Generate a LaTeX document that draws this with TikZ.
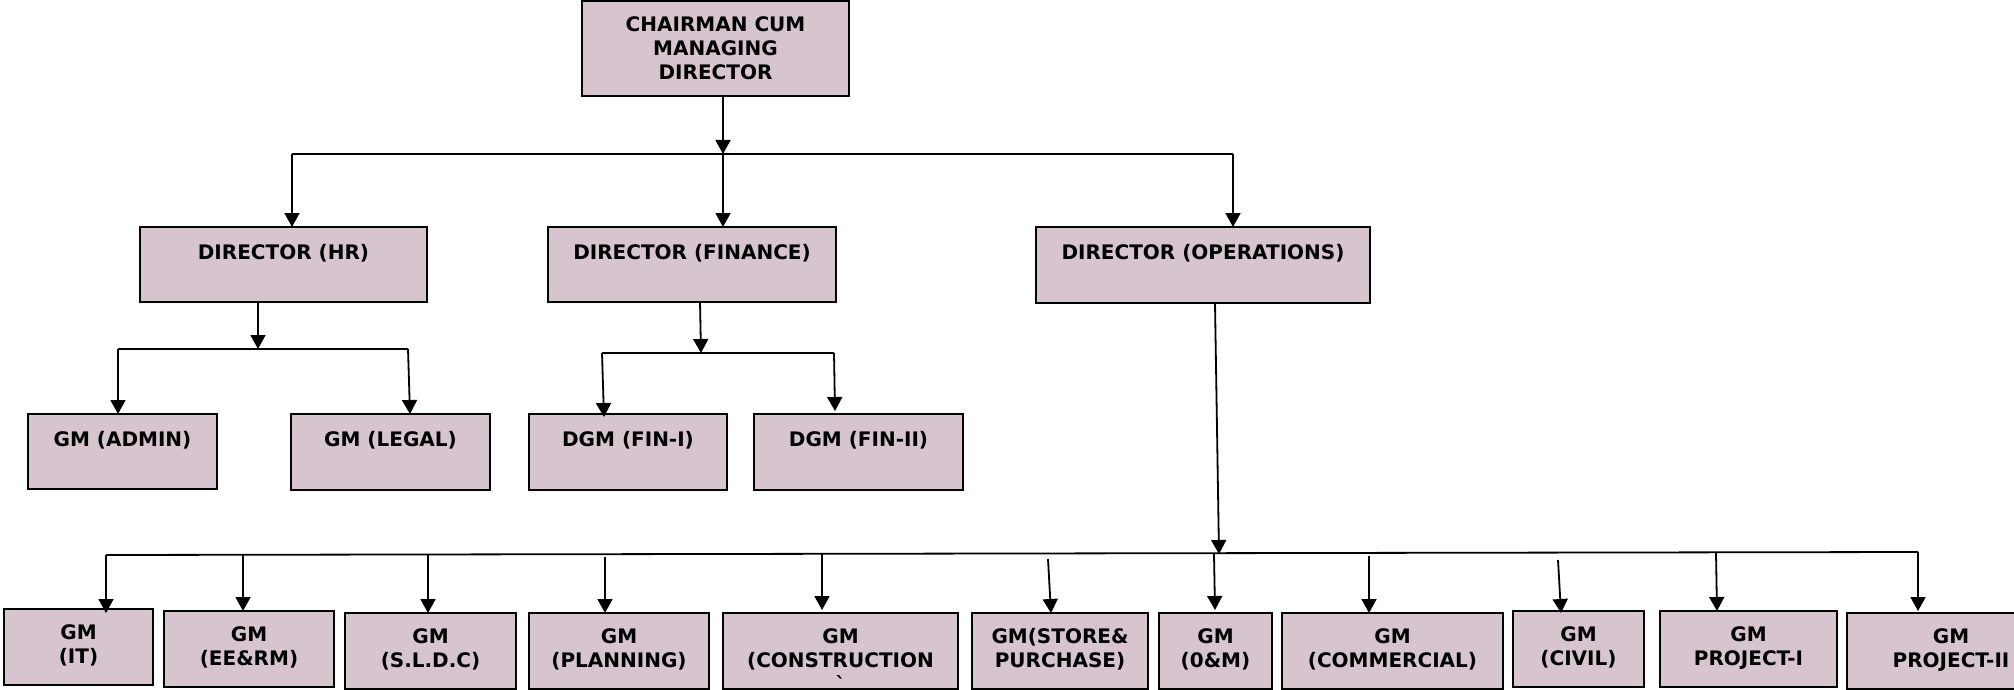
\documentclass[tikz,border=0pt]{standalone}
\usepackage{fontspec}
\setmainfont{DejaVu Sans}
\usetikzlibrary{arrows.meta,calc}
\definecolor{boxfill}{RGB}{214,196,206}
\newcommand\orgfont{\fontsize{20}{24.4}\selectfont\bfseries}
\newcommand\obox[6]{%
  \node[box, minimum width=#4pt, minimum height=#5pt] (#1) at (#2,#3) {};
  \node[lbl] (#1-t) at ($(#1.north)+(0,15)$) {#6};}
\begin{document}
\begin{tikzpicture}[x=1pt,y=-1pt,
  box/.style={draw=black, line width=1.8pt, fill=boxfill, inner sep=0pt, outer sep=0pt, anchor=north west},
  lbl/.style={font=\orgfont, align=center, inner sep=0pt, anchor=north, execute at begin node=\strut},
  conn/.style={line width=1.8pt, -{Triangle[width=15pt,length=14pt]}},
  bus/.style={line width=1.8pt}]
\useasboundingbox (0,0) rectangle (2014,690);
\clip (0,0) rectangle (2014,690);

% boxes
\obox{cmd}{582}{1}{267}{95}{CHAIRMAN CUM\\MANAGING\\DIRECTOR}
\obox{hr}{140}{227}{287}{75}{DIRECTOR (HR)}
\obox{fin}{548}{227}{288}{75}{DIRECTOR (FINANCE)}
\obox{ops}{1036}{227}{334}{76}{DIRECTOR (OPERATIONS)}
\obox{admin}{28}{414}{189}{75}{GM (ADMIN)}
\obox{legal}{291}{414}{199}{76}{GM (LEGAL)}
\obox{fina}{529}{414}{198}{76}{DGM (FIN-I)}
\obox{finb}{754}{414}{209}{76}{DGM (FIN-II)}
\obox{it}{4}{609}{149}{76}{GM\\(IT)}
\obox{eerm}{164}{611}{170}{76}{GM\\(EE\&RM)}
\obox{sldc}{345}{613}{171}{76}{GM\\(S.L.D.C)}
\obox{plan}{529}{613}{180}{76}{GM\\(PLANNING)}
\obox{cons}{723}{613}{235}{76}{GM\\(CONSTRUCTION\\\textasciigrave}
\obox{store}{972}{613}{176}{76}{GM(STORE\&\\PURCHASE)}
\obox{om}{1159}{613}{113}{76}{GM\\(0\&M)}
\obox{comm}{1282}{613}{221}{76}{GM\\(COMMERCIAL)}
\obox{civil}{1513}{611}{131}{76}{GM\\(CIVIL)}
\obox{proja}{1660}{611}{177}{76}{GM\\PROJECT-I}
\obox{projb}{1847}{613}{208}{76}{GM\\PROJECT-II}

% level 1
\coordinate (b0) at (723,154);
\coordinate (b0l) at (292,154);
\coordinate (b0r) at (1233,154);
\draw[conn] (cmd.south -| b0) -- (b0);
\draw[bus] (b0l) -- (b0r);
\draw[conn] (b0l) -- (b0l |- hr.north);
\draw[conn] (b0) -- (b0 |- fin.north);
\draw[conn] (b0r) -- (b0r |- ops.north);

% HR
\coordinate (h0) at (258,349);
\coordinate (h0l) at (118,349);
\coordinate (h0r) at (408,349);
\draw[conn] (hr.south -| h0) -- (h0);
\draw[bus] (h0l) -- (h0r);
\draw[conn] (h0l) -- (h0l |- admin.north);
\draw[conn] (h0r) -- ($(h0r |- legal.north)+(2,0)$);

% Finance
\coordinate (f0) at (701,353);
\coordinate (f0l) at (602,353);
\coordinate (f0r) at (834,353);
\draw[conn] ($(fin.south -| f0)+(-1,0)$) -- (f0);
\draw[bus] (f0l) -- (f0r);
\draw[conn] (f0l) -- ($(f0l |- fina.north)+(2,3)$);
\draw[conn] (f0r) -- ($(f0r |- finb.north)+(1,-3)$);

% Operations
\coordinate (o0) at (1219,554);
\coordinate (o0l) at (106,555);
\coordinate (o0r) at (1918,552);
\draw[conn] ($(ops.south -| o0)+(-4,0)$) -- (o0);
\draw[bus] (o0l) -- (o0r);
\coordinate (s-eerm) at (243,555);
\coordinate (s-sldc) at (428,554);
\coordinate (s-plan) at (605,557);
\coordinate (s-cons) at (822,554);
\coordinate (s-store) at (1048,559);
\coordinate (s-om) at (1214,554);
\coordinate (s-comm) at (1369,556);
\coordinate (s-civil) at (1558,560);
\coordinate (s-proja) at (1716,553);
\draw[conn] (o0l) -- ($(o0l |- it.north)+(0,4)$);
\draw[conn] (s-eerm) -- (s-eerm |- eerm.north);
\draw[conn] (s-sldc) -- (s-sldc |- sldc.north);
\draw[conn] (s-plan) -- (s-plan |- plan.north);
\draw[conn] (s-cons) -- ($(s-cons |- cons.north)+(0,-3)$);
\draw[conn] (s-store) -- ($(s-store |- store.north)+(3,0)$);
\draw[conn] (s-om) -- ($(s-om |- om.north)+(1,-3)$);
\draw[conn] (s-comm) -- (s-comm |- comm.north);
\draw[conn] (s-civil) -- ($(s-civil |- civil.north)+(3,2)$);
\draw[conn] (s-proja) -- ($(s-proja |- proja.north)+(1,0)$);
\draw[conn] (o0r) -- ($(o0r |- projb.north)+(0,-2)$);
\end{tikzpicture}
\end{document}
